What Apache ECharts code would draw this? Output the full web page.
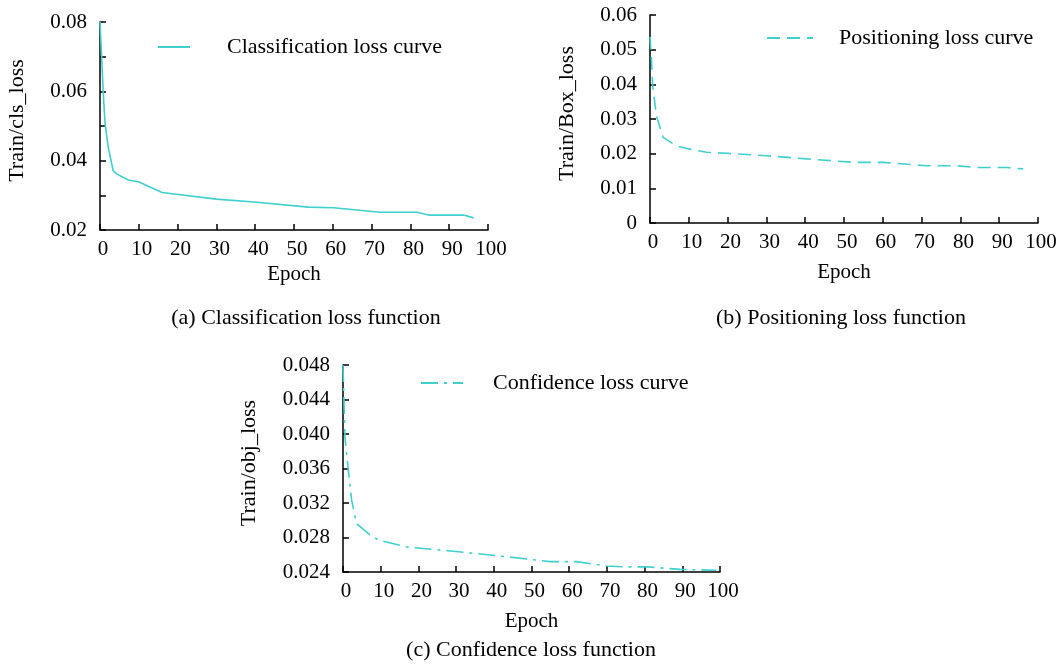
<!DOCTYPE html>
<html>
<head>
<meta charset="utf-8">
<script src="https://cdn.jsdelivr.net/npm/echarts@6/dist/echarts.min.js"></script>
<style>
  html, body { margin: 0; padding: 0; background: #fff; }
  #chart { width: 1062px; height: 664px; }
</style>
</head>
<body>
<div id="chart"></div>
<script>
// ==========================================================================
// Data
// ==========================================================================

var clsEpoch = [0, 0.85, 1.3, 2.1, 3.4, 4.3, 7.3, 9.9, 16, 30, 40.4, 53.7, 60.2, 72.2, 81.7, 84.7, 93.7, 96.3];
var clsLoss  = [0.0802, 0.0594, 0.0508, 0.044, 0.0371, 0.0362, 0.0344, 0.0339, 0.0308, 0.0289, 0.028, 0.0266, 0.0264, 0.0251, 0.0251, 0.0243, 0.0243, 0.0235];

var boxEpoch = [0, 0.4, 0.7, 1.7, 3.4, 6.9, 9.5, 14.6, 19.8, 30, 40.4, 52.4, 60.1, 71.3, 79, 84.2, 92, 96.2];
var boxLoss  = [0.0537, 0.047, 0.0393, 0.0307, 0.0247, 0.0222, 0.0215, 0.0204, 0.0201, 0.0194, 0.0185, 0.0175, 0.0175, 0.0165, 0.0165, 0.016, 0.016, 0.0156];

var objEpoch = [0, 0.5, 1.4, 2.3, 3.6, 7.2, 9.4, 16.9, 29.3, 40.8, 54.9, 62, 69.9, 74.4, 80.6, 89.4, 99];
var objLoss  = [0.048, 0.0397, 0.0358, 0.0323, 0.0296, 0.0283, 0.0277, 0.0269, 0.0264, 0.0259, 0.0252, 0.0252, 0.0247, 0.0246, 0.0246, 0.0243, 0.0242];

var epochTicks = [0, 100, 10];   // min, max, interval
var seriesNames = ['Classification loss curve', 'Positioning loss curve', 'Confidence loss curve'];
var captions = ['(a) Classification loss function', '(b) Positioning loss function', '(c) Confidence loss function'];
var yNames = ['Train/cls_loss', 'Train/Box_loss', 'Train/obj_loss'];

// ==========================================================================
// Shared styling
// ==========================================================================

var FONT = '"Liberation Serif", "DejaVu Serif", serif';
var FS = 21;      // tick labels, Epoch
var FS_BIG = 22;  // legends, captions, y names
var LINE_COLOR = '#3fcfcf';

function zip(xs, ys) {
    return xs.map((x, i) => [x, ys[i]]);
}

function xAxisFor(gridIndex, nameGap) {
    return {
        type: 'value',
        gridIndex: gridIndex,
        min: epochTicks[0],
        max: epochTicks[1],
        interval: epochTicks[2],
        name: 'Epoch',
        nameLocation: 'middle',
        nameGap: nameGap,
        nameTextStyle: { fontFamily: FONT, fontSize: FS, color: '#000' },
        axisLine: { show: true, lineStyle: { color: '#000', width: 1.5 } },
        axisTick: { show: true, inside: true, length: 6, lineStyle: { color: '#000', width: 1.5 } },
        axisLabel: { fontFamily: FONT, fontSize: FS, color: '#000', margin: 9, padding: [0, 0, 0, 6] },
        splitLine: { show: false }
    };
}

function yAxisFor(gridIndex, min, max, interval, nameGap, labelFn) {
    return {
        type: 'value',
        gridIndex: gridIndex,
        min: min,
        max: max,
        interval: interval,
        name: yNames[gridIndex],
        nameLocation: 'middle',
        nameGap: nameGap,
        // left padding nudges the rotated name upwards a little
        nameTextStyle: { fontFamily: FONT, fontSize: FS_BIG, color: '#000', padding: [0, 0, 0, 11] },
        axisLine: { show: true, lineStyle: { color: '#000', width: 1.5 } },
        axisTick: { show: true, inside: true, length: 6, lineStyle: { color: '#000', width: 1.5 } },
        axisLabel: { fontFamily: FONT, fontSize: FS, color: '#000', margin: 13, formatter: labelFn },
        splitLine: { show: false }
    };
}

function lineSeries(idx, data, dash) {
    return {
        name: seriesNames[idx],
        type: 'line',
        xAxisIndex: idx,
        yAxisIndex: idx,
        data: data,
        symbol: 'none',
        smooth: false,
        lineStyle: { color: LINE_COLOR, width: 1.6, type: dash },
        itemStyle: { color: LINE_COLOR },
        z: 3
    };
}

function legendFor(name, left, top, iconWidth, textGap) {
    return {
        data: [name],
        left: left,
        top: top,
        itemWidth: iconWidth,
        itemHeight: 14,
        itemStyle: { opacity: 0 },
        textStyle: { fontFamily: FONT, fontSize: FS_BIG, color: '#000', padding: [0, 0, 0, textGap] }
    };
}

function captionFor(text, cx, top) {
    return {
        text: text,
        left: cx,
        top: top,
        textAlign: 'center',
        textStyle: { fontFamily: FONT, fontSize: FS_BIG, fontWeight: 'normal', color: '#000' }
    };
}

// ==========================================================================
// Chart
// ==========================================================================

var chart = echarts.init(document.getElementById('chart'), null, { renderer: 'canvas' });

chart.setOption({
    backgroundColor: '#fff',
    animation: false,
    title: [
        captionFor(captions[0], 301, 302),
        captionFor(captions[1], 836, 302),
        captionFor(captions[2], 526, 634)
    ],
    legend: [
        legendFor(seriesNames[0], 152, 31, 32, 32),
        legendFor(seriesNames[1], 761, 22, 46, 21),
        legendFor(seriesNames[2], 415, 367, 42, 25)
    ],
    grid: [
        { left: 100, top: 22, width: 388, height: 208 },
        { left: 650, top: 15, width: 388, height: 208 },
        { left: 343, top: 365, width: 377, height: 207 }
    ],
    xAxis: [xAxisFor(0, 34), xAxisFor(1, 39), xAxisFor(2, 39)],
    yAxis: [
        yAxisFor(0, 0.02, 0.08, 0.01, 72, v => (Math.round(v * 100) % 2 === 0 ? v.toFixed(2) : '')),
        yAxisFor(1, 0, 0.06, 0.01, 72, v => (v === 0 ? '0' : v.toFixed(2))),
        yAxisFor(2, 0.024, 0.048, 0.004, 83, v => v.toFixed(3))
    ],
    series: [
        lineSeries(0, zip(clsEpoch, clsLoss), 'solid'),
        lineSeries(1, zip(boxEpoch, boxLoss), [13, 7]),
        lineSeries(2, zip(objEpoch, objLoss), [17, 6, 3, 6])
    ]
});
</script>
</body>
</html>
